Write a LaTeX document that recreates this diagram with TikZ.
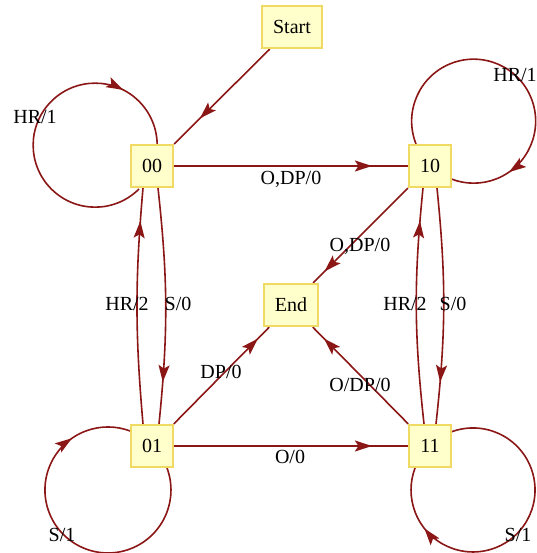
\documentclass[tikz,border=0pt]{standalone}
\usepackage{fontspec}
\setmainfont{Liberation Serif}
\usetikzlibrary{arrows.meta,decorations.markings,backgrounds,calc}
\definecolor{edgered}{RGB}{139,22,22}
\definecolor{boxfill}{RGB}{255,255,204}
\definecolor{boxline}{RGB}{240,218,100}
\tikzset{
  state/.style={draw=boxline, fill=boxfill, line width=2.2pt, minimum width=42pt,
    minimum height=42pt, inner xsep=11pt, inner ysep=0pt, text=black},
  edge/.style={draw=edgered, line width=1.6pt},
  arrowat/.style={decoration={markings, mark=at position #1 with
    {\arrow{Stealth[length=17pt,width=11pt,inset=3.5pt]}}}, postaction={decorate}},
  lbl/.style={text=black, inner sep=0pt}
}
\begin{document}
\begin{tikzpicture}[x=1pt,y=1pt,font=\fontsize{20}{24}\selectfont]
\useasboundingbox (0,0) rectangle (536,-553);
% states
\node[state] (nStart) at (292,-27) {Start};
\node[state] (n00) at (152,-166) {00};
\node[state] (n10) at (430,-166) {10};
\node[state] (nEnd) at (291,-305) {End};
\node[state] (n01) at (152,-446) {01};
\node[state] (n11) at (430,-446) {11};
\begin{scope}[on background layer]
% straight edges
\draw[edge, arrowat=-36pt] (nStart) -- (n00);
\draw[edge, arrowat=-36pt] (n00) -- (n10);
\draw[edge, arrowat=-36pt] (n01) -- (n11);
\draw[edge, arrowat=-16pt] (n10) -- (nEnd);
\draw[edge, arrowat=-16pt] (n01) -- (nEnd);
\draw[edge, arrowat=-16pt] (n11) -- (nEnd);
% vertical pairs
\draw[edge, arrowat=-33pt] ($(n01.north)+(-9,0)$) to[bend left=5] ($(n00.south)+(-9,0)$);
\draw[edge, arrowat=-42pt] ($(n00.south)+(6,0)$) to[bend left=6] ($(n01.north)+(7,0)$);
\draw[edge, arrowat=-33pt] ($(n11.north)+(-6,0)$) to[bend left=6] ($(n10.south)+(-7,0)$);
\draw[edge, arrowat=-42pt] ($(n10.south)+(7,0)$) to[bend left=6] ($(n11.north)+(6,0)$);
% self loops
\draw[edge, arrowat=0.8] ($(n00.center)+(-13,-23)$) arc[start angle=-45, end angle=-360, radius=62pt];
\draw[edge, arrowat=0.82] ($(n10.center)+(-14,22)$) arc[start angle=201.6, end angle=-111.6, radius=62pt];
\draw[edge, arrowat=0.82] ($(n01.center)+(15,-22)$) arc[start angle=20.4, end angle=-291.3, radius=63pt];
\draw[edge, arrowat=0.81] ($(n11.center)+(21,14)$) arc[start angle=110.8, end angle=-200.8, radius=62pt];
\end{scope}
% labels
\node[lbl] (l1) at (35,-117) {HR/1};
\node[lbl] (l2) at (515,-75) {HR/1};
\node[lbl] (l3) at (291,-179) {O,DP/0};
\node[lbl] (l4) at (360,-246) {O,DP/0};
\node[lbl] (l5) at (127,-304) {HR/2};
\node[lbl] (l6) at (178,-304) {S/0};
\node[lbl] (l7) at (405,-304) {HR/2};
\node[lbl] (l8) at (453,-304) {S/0};
\node[lbl] (l9) at (221,-372) {DP/0};
\node[lbl] (l10) at (360,-385) {O/DP/0};
\node[lbl] (l11) at (290,-457) {O/0};
\node[lbl] (l12) at (62,-535) {S/1};
\node[lbl] (l13) at (518,-535) {S/1};
\end{tikzpicture}
\end{document}
